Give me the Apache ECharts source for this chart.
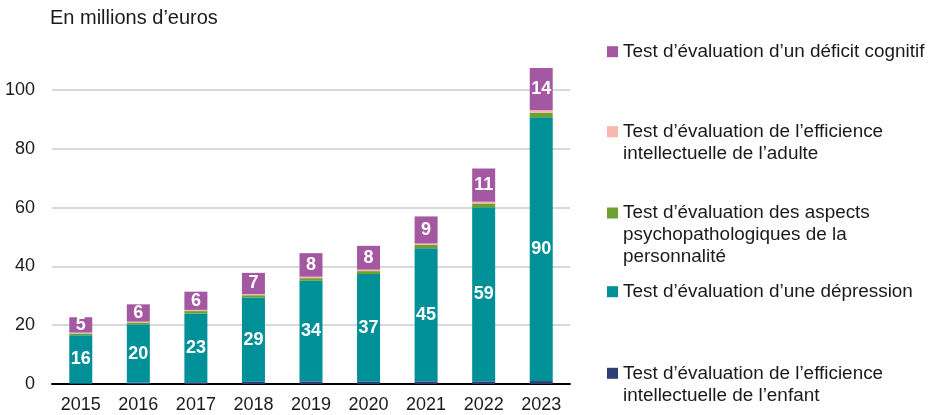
<!DOCTYPE html>
<html>
<head>
<meta charset="utf-8">
<script src="https://cdn.jsdelivr.net/npm/echarts@6/dist/echarts.min.js"></script>
<style>
  html, body { margin: 0; padding: 0; background: #fff; }
  #chart { width: 928px; height: 415px; }
</style>
</head>
<body>
<div id="chart"></div>
<script>
// années
var years = ['2015', '2016', '2017', '2018', '2019', '2020', '2021', '2022', '2023'];
// valeurs en millions d'euros
var enfant = [0.2, 0.4, 0.6, 0.8, 0.9, 0.8, 0.9, 0.9, 1.0];
var depression = [16.4, 19.8, 23.4, 28.6, 34.2, 36.6, 45.3, 59.2, 89.7];
var personnalite = [0.6, 0.7, 0.8, 0.8, 0.9, 1.0, 1.1, 1.3, 1.6];
var adulte = [0.3, 0.3, 0.4, 0.4, 0.5, 0.5, 0.5, 0.6, 0.8];
var cognitif = [5.2, 5.9, 6.2, 7.2, 8.0, 8.1, 9.2, 11.3, 14.4];
var yTicks = [0, 20, 40, 60, 80, 100];

var N_ENFANT = 'Test d’évaluation de l’efficience intellectuelle de l’enfant';
var N_DEP = 'Test d’évaluation d’une dépression';
var N_PERS = 'Test d’évaluation des aspects psychopathologiques de la personnalité';
var N_ADULTE = 'Test d’évaluation de l’efficience intellectuelle de l’adulte';
var N_COG = 'Test d’évaluation d’un déficit cognitif';

var wrapped = {};
wrapped[N_ENFANT] = 'Test d’évaluation de l’efficience\nintellectuelle de l’enfant';
wrapped[N_DEP] = N_DEP;
wrapped[N_PERS] = 'Test d’évaluation des aspects\npsychopathologiques de la\npersonnalité';
wrapped[N_ADULTE] = 'Test d’évaluation de l’efficience\nintellectuelle de l’adulte';
wrapped[N_COG] = N_COG;

var font = '"Liberation Sans", Arial, sans-serif';
var LH = 22;

// une légende par entrée ; lignes vides devant pour garder le carré
// au niveau de la première ligne du texte
function legendItem(name, top) {
  return {
    data: [name],
    left: 607,
    top: top,
    padding: 0,
    itemWidth: 11,
    itemHeight: 11,
    icon: 'rect',
    selectedMode: false,
    formatter: function (n) {
      var lines = wrapped[n].split('\n');
      var pre = '';
      for (var i = 1; i < lines.length; i++) pre += ' \n';
      return pre + wrapped[n];
    },
    textStyle: {
      fontFamily: font,
      fontSize: 18.9,
      color: '#1a1a1a',
      lineHeight: LH
    }
  };
}

var labelStyle = {
  show: true,
  position: 'inside',
  color: '#fff',
  fontFamily: font,
  fontSize: 18,
  fontWeight: 'bold',
  formatter: function (p) { return Math.round(p.value); }
};

function bar(name, data, color, withLabel) {
  return {
    name: name,
    type: 'bar',
    stack: 'total',
    barWidth: 23,
    clip: false,
    data: data,
    itemStyle: { color: color },
    label: withLabel ? labelStyle : { show: false }
  };
}

var chart = echarts.init(document.getElementById('chart'));
chart.setOption({
  animation: false,
  title: {
    text: 'En millions d’euros',
    left: 45,
    top: 3,
    textStyle: { fontFamily: font, fontSize: 20, fontWeight: 'normal', color: '#1a1a1a' }
  },
  legend: [
    legendItem(N_COG, 40.7),
    legendItem(N_ADULTE, 98.7),
    legendItem(N_PERS, 158),
    legendItem(N_DEP, 280.7),
    legendItem(N_ENFANT, 340.3)
  ],
  grid: { left: 52, right: 358, top: 90, bottom: 31 },
  xAxis: {
    type: 'category',
    data: years,
    axisTick: { show: false },
    axisLine: { lineStyle: { color: '#000', width: 2 } },
    axisLabel: { margin: 12, fontFamily: font, fontSize: 18, color: '#1a1a1a' }
  },
  yAxis: {
    type: 'value',
    min: yTicks[0],
    max: yTicks[yTicks.length - 1],
    interval: 20,
    axisLine: { show: false },
    axisTick: { show: false },
    axisLabel: { margin: 17, fontFamily: font, fontSize: 18, color: '#1a1a1a' },
    splitLine: { lineStyle: { color: '#d9d9d9', width: 2 } }
  },
  series: [
    bar(N_ENFANT, enfant, '#2d3e74', false),
    bar(N_DEP, depression, '#009098', true),
    bar(N_PERS, personnalite, '#6ca130', false),
    bar(N_ADULTE, adulte, '#f8b8ae', false),
    bar(N_COG, cognitif, '#a458a1', true)
  ]
});
</script>
</body>
</html>
